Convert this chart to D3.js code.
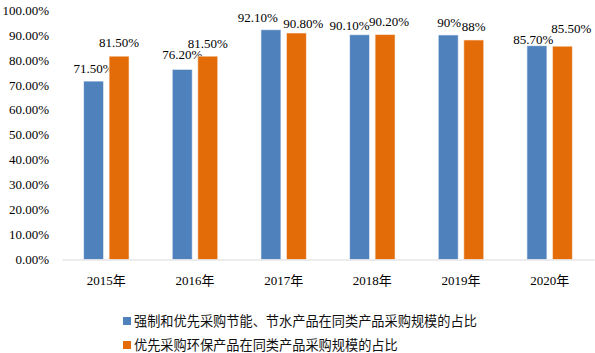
<!DOCTYPE html>
<html>
<head>
<meta charset="utf-8">
<script src="https://cdn.jsdelivr.net/npm/d3@7"></script>
<style>
  html, body { margin: 0; padding: 0; background: #fff; }
  svg { display: block; }
</style>
</head>
<body>
<div id="chart"></div>
<script>
const years = ['2015年', '2016年', '2017年', '2018年', '2019年', '2020年'];
const energyWater = [71.5, 76.2, 92.1, 90.1, 90, 85.7];
const environment = [81.5, 81.5, 90.8, 90.2, 88, 85.5];
const energyLabels = ['71.50%', '76.20%', '92.10%', '90.10%', '90%', '85.70%'];
const envLabels = ['81.50%', '81.50%', '90.80%', '90.20%', '88%', '85.50%'];
const yTicks = [0, 10, 20, 30, 40, 50, 60, 70, 80, 90, 100];
const seriesNames = ['强制和优先采购节能、节水产品在同类产品采购规模的占比', '优先采购环保产品在同类产品采购规模的占比'];
const colors = ['#4f81bd', '#e36c09'];

// label nudges (px) as placed in the original, [dx, dy of text centre above bar top]
const labelNudge = [
    [[0, 13], [0, 14.5], [-13, 12], [-10, 9], [1, 12.5], [-3.5, 6]],
    [[0, 13.5], [0, 13], [7, 10], [4, 13], [0, 13], [9, 18]]
];

const width = 595, height = 353;
const serif = '"Liberation Serif", "Times New Roman", "Noto Sans CJK SC", serif';

const svg = d3.select('#chart').append('svg')
    .attr('width', width)
    .attr('height', height)
    .attr('viewBox', [0, 0, width, height]);

const x = d3.scaleBand(years, [62, 594]);
const y = d3.scaleLinear([0, 100], [259.5, 10]);

const barW = 20, gap = 5.5;
const offsets = [-(gap / 2 + barW), gap / 2];

// y axis labels
svg.append('g')
    .attr('transform', 'translate(49,0)')
    .call(d3.axisLeft(y).tickValues(yTicks).tickSize(0).tickPadding(0)
        .tickFormat(d => d.toFixed(2) + '%'))
    .call(g => g.select('.domain').remove())
    .call(g => g.selectAll('text')
        .style('font-family', serif)
        .style('font-size', '13px')
        .attr('fill', '#000'));

const series = [energyWater, environment];
const labels = [energyLabels, envLabels];

series.forEach((vals, s) => {
    const cx = d => x(d) + x.bandwidth() / 2 + offsets[s] + barW / 2;

    svg.append('g')
        .selectAll('rect')
        .data(years)
        .join('rect')
        .attr('x', d => cx(d) - barW / 2)
        .attr('y', (d, i) => y(vals[i]))
        .attr('width', barW)
        .attr('height', (d, i) => y(0) - y(vals[i]))
        .attr('fill', colors[s])
        .attr('stroke', '#fff')
        .attr('stroke-opacity', 0.6)
        .attr('stroke-width', 1);

    svg.append('g')
        .selectAll('text')
        .data(years)
        .join('text')
        .attr('x', (d, i) => cx(d) + labelNudge[s][i][0])
        .attr('y', (d, i) => y(vals[i]) - labelNudge[s][i][1])
        .attr('dy', '0.35em')
        .attr('text-anchor', 'middle')
        .style('font-family', serif)
        .style('font-size', '13px')
        .attr('fill', '#000')
        .text((d, i) => labels[s][i]);
});

// x axis
svg.append('g')
    .attr('transform', `translate(0,${y(0)})`)
    .call(d3.axisBottom(x).tickSize(0).tickPadding(16))
    .call(g => g.select('.domain').attr('stroke', '#d9d9d9').attr('stroke-width', 1.2))
    .call(g => g.selectAll('text')
        .style('font-family', serif)
        .style('font-size', '13px')
        .attr('fill', '#000'));

// legend
const legend = svg.append('g')
    .selectAll('g')
    .data(seriesNames)
    .join('g')
    .attr('transform', (d, i) => `translate(123,${317 + i * 24})`);

legend.append('rect')
    .attr('width', 8)
    .attr('height', 8)
    .attr('fill', (d, i) => colors[i]);

legend.append('text')
    .attr('x', 11)
    .attr('y', 4)
    .attr('dy', '0.35em')
    .style('font-family', '"Noto Sans CJK SC", sans-serif')
    .style('font-size', '13.2px')
    .attr('fill', '#111')
    .text(d => d);
</script>
</body>
</html>
